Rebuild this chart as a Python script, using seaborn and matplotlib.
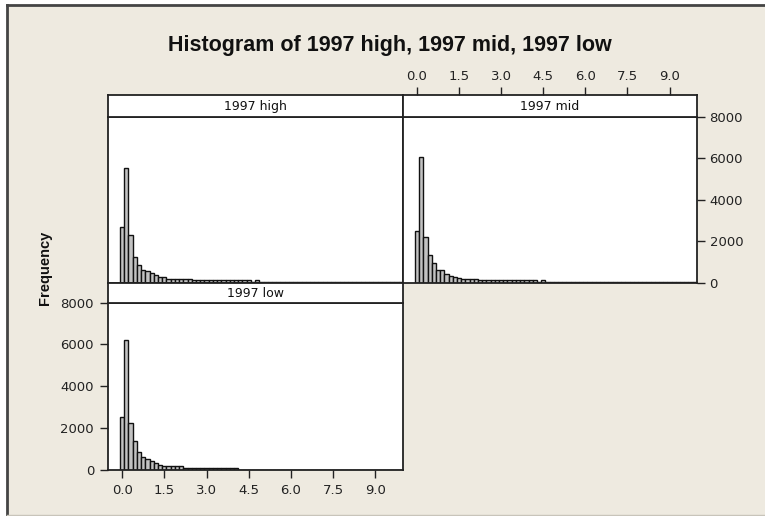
import numpy as np
import pandas as pd
import matplotlib
matplotlib.use("Agg")
import matplotlib.pyplot as plt
import seaborn as sns

# ---------------- data ----------------
bin_width = 0.15
bin_centers = [round(i * bin_width, 2) for i in range(67)]  # 0.00 ... 9.90

high_counts = ([2700, 5550, 2280, 1250, 870, 610, 545, 465, 350, 290, 275,
                175, 175, 175, 175, 175, 175,
                110, 110, 110, 110, 110, 110, 110, 110, 110, 110, 110, 110, 110, 110,
                15, 120] + [15] * 34)
mid_counts = ([2500, 6070, 2200, 1317, 930, 610, 595, 418, 337, 273, 210,
               160, 160, 160, 160,
               100, 100, 100, 100, 100, 100, 100, 100, 100, 100, 100, 100, 100, 100,
               15, 130] + [15] * 36)
low_counts = ([2520, 6215, 2265, 1370, 860, 640, 540, 415, 320, 240, 207,
               175, 175, 175, 175,
               110, 110, 110, 110, 110, 110, 110, 110, 110, 110, 110, 110, 110]
              + [15] * 39)

panel_names = ["1997 high", "1997 mid", "1997 low"]
x_ticks = [0.0, 1.5, 3.0, 4.5, 6.0, 7.5, 9.0]
x_tick_labels = ["0.0", "1.5", "3.0", "4.5", "6.0", "7.5", "9.0"]
y_ticks = [0, 2000, 4000, 6000, 8000]
y_tick_labels = ["0", "2000", "4000", "6000", "8000"]

title = "Histogram of 1997 high, 1997 mid, 1997 low"
y_label = "Frequency"

# ---------------- figure ----------------
sns.set_theme(style="white")
plt.rcParams["font.family"] = ["DejaVu Sans"]

W, H = 765, 516
fig = plt.figure(figsize=(W / 100, H / 100), dpi=100)
fig.patch.set_facecolor("white")

BG = "#EEEAE0"
EDGE = "#222222"


def fax(x0, y0, x1, y1):
    """pixel box (top-left origin) -> figure fraction rect"""
    return [x0 / W, 1 - y1 / H, (x1 - x0) / W, (y1 - y0) / H]


# beige background frame
bg = fig.add_axes(fax(7, 5, W + 10, H - 1))
bg.set_facecolor(BG)
bg.set_xticks([])
bg.set_yticks([])
bg.spines["right"].set_visible(False)
bg.spines["bottom"].set_color("#C8C4BA")
bg.spines["bottom"].set_linewidth(1)
for side in ["top", "left"]:
    bg.spines[side].set_color("#444444")
    bg.spines[side].set_linewidth(2)

n_bins = len(bin_centers)
bin_range = (bin_centers[0] - bin_width / 2, bin_centers[-1] + bin_width / 2)
xlim = (-0.5, 9.98)

panels = [
    # name, counts, plot box, strip box
    (panel_names[0], high_counts, (108, 117, 403, 282.5), (108, 95, 403, 117)),
    (panel_names[1], mid_counts, (403, 117, 697, 282.5), (403, 95, 697, 117)),
    (panel_names[2], low_counts, (108, 302.5, 403, 470), (108, 283, 403, 302.5)),
]

tick_font = dict(fontsize=9.5, color="#222222")

for i, (name, counts, pbox, sbox) in enumerate(panels):
    df = pd.DataFrame({"value": bin_centers, "count": counts})
    ax = fig.add_axes(fax(*pbox))
    sns.histplot(data=df, x="value", weights="count", bins=n_bins,
                 binrange=bin_range, ax=ax,
                 color="#C2C2C2", edgecolor="#111111", linewidth=1.0, alpha=1.0)
    ax.set_facecolor("white")
    ax.set_xlim(*xlim)
    ax.set_ylim(0, 8000)
    ax.set_xlabel("")
    ax.set_ylabel("")
    for sp in ax.spines.values():
        sp.set_visible(True)
        sp.set_color(EDGE)
        sp.set_linewidth(1.3)
    ax.set_xticks(x_ticks)
    ax.set_yticks(y_ticks)
    ax.tick_params(axis="both", which="both", direction="out", length=6,
                   width=1, color=EDGE, pad=3)

    if i == 0:
        ax.tick_params(bottom=False, labelbottom=False, left=False, labelleft=False)
    elif i == 1:
        ax.tick_params(bottom=False, labelbottom=False, left=False, labelleft=False,
                       right=True, labelright=True)
        ax.set_yticklabels(y_tick_labels, **tick_font)
    else:
        ax.tick_params(bottom=True, labelbottom=True, left=True, labelleft=True, pad=4)
        ax.set_xticklabels(x_tick_labels, **tick_font)
        ax.set_yticklabels(y_tick_labels, **tick_font)

    # strip
    sx = fig.add_axes(fax(*sbox))
    sx.set_facecolor("white")
    sx.set_xlim(*xlim)
    sx.set_ylim(0, 1)
    sx.set_yticks([])
    for sp in sx.spines.values():
        sp.set_color(EDGE)
        sp.set_linewidth(1.3)
    sx.text(0.5, 0.48, name, transform=sx.transAxes, ha="center", va="center",
            fontsize=9, color="#111111")
    if i == 1:
        sx.set_xticks(x_ticks)
        sx.xaxis.tick_top()
        sx.set_xticklabels(x_tick_labels, **tick_font)
        sx.tick_params(axis="x", direction="out", length=6, width=1, color=EDGE, pad=3)
    else:
        sx.set_xticks([])

fig.text(390 / W, 1 - 45 / H, title, ha="center", va="center",
         fontsize=15.5, fontweight="bold", family=["Liberation Sans", "DejaVu Sans"],
         color="#111111")
fig.text(45 / W, 1 - 268 / H, y_label, ha="center", va="center", rotation=90,
         fontsize=10.5, fontweight="bold", family=["Liberation Sans", "DejaVu Sans"],
         color="#111111")

fig.savefig("out.png", dpi=100, facecolor=fig.get_facecolor())
